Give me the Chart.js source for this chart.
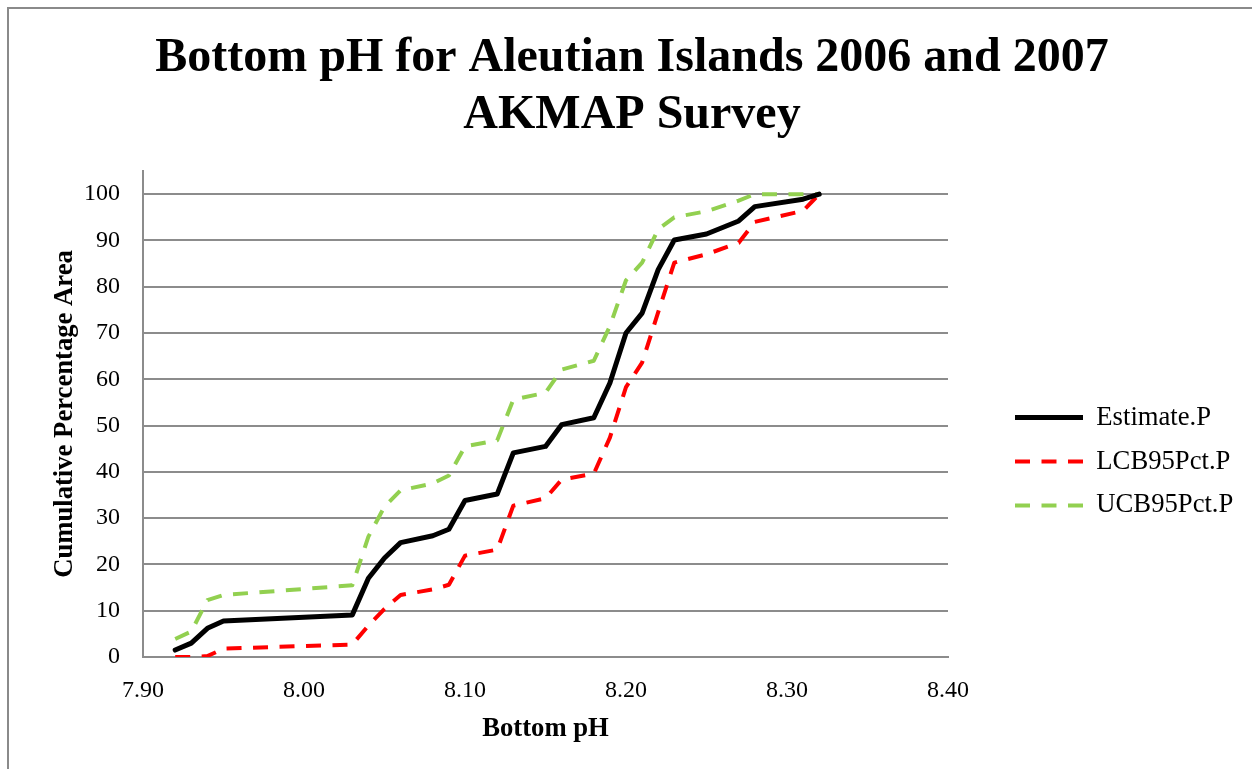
<!DOCTYPE html>
<html>
<head>
<meta charset="utf-8">
<script src="https://cdn.jsdelivr.net/npm/chart.js@4.4.0/dist/chart.umd.min.js"></script>
<style>
  html, body { margin: 0; padding: 0; background: #ffffff; }
  #wrap { position: relative; width: 1252px; height: 769px; overflow: hidden; }
  #frame { position: absolute; left: 7px; top: 7px; right: -10px; bottom: -10px;
           border-left: 2px solid #8a8a8a; border-top: 2px solid #8a8a8a; pointer-events: none; }
  canvas { position: absolute; left: 0; top: 0; }
</style>
</head>
<body>
<div id="wrap">
  <canvas id="chart" width="1252" height="769"></canvas>
  <div id="frame"></div>
</div>
<script>
// ---- data ----
const titleLines = ["Bottom pH for Aleutian Islands 2006 and 2007", "AKMAP Survey"];
const xAxisTitle = "Bottom pH";
const yAxisTitle = "Cumulative Percentage Area";
const seriesNames = ["Estimate.P", "LCB95Pct.P", "UCB95Pct.P"];

const bottomPH = [7.92, 7.93, 7.94, 7.95, 8.03, 8.04, 8.05, 8.06, 8.08, 8.09, 8.10, 8.12, 8.13,
                  8.15, 8.16, 8.18, 8.19, 8.20, 8.21, 8.22, 8.23, 8.25, 8.27, 8.28, 8.31, 8.32];
const estimateP = [1.5, 3.0, 6.2, 7.8, 9.1, 17.0, 21.4, 24.7, 26.2, 27.6, 33.8, 35.2, 44.1,
                   45.5, 50.2, 51.7, 59.2, 70.0, 74.3, 83.7, 90.1, 91.4, 94.2, 97.3, 98.9, 100];
const lcb95P = [0, 0, 0.2, 1.8, 2.7, 6.8, 10.4, 13.4, 14.6, 15.6, 21.9, 23.2, 32.7,
                34.3, 38.3, 39.6, 47.4, 58.3, 63.6, 74.5, 85.2, 87.0, 89.5, 94.0, 96.4, 100];
const ucb95P = [3.9, 5.5, 12.3, 13.4, 15.5, 26.0, 32.5, 36.0, 37.5, 39.2, 45.5, 46.8, 55.6,
                57.1, 62.1, 64.0, 71.5, 81.4, 85.2, 92.4, 95.0, 96.3, 98.6, 100, 100, 100];

const xTickValues = [7.90, 8.00, 8.10, 8.20, 8.30, 8.40];
const yTickValues = [0, 10, 20, 30, 40, 50, 60, 70, 80, 90, 100];
const xRange = [7.90, 8.40];
const yRange = [0, 105];

// ---- chart ----
const serif = "'Liberation Serif', 'Times New Roman', serif";
const gridGrey = '#8c8c8c';

function pts(ys) { return bottomPH.map((x, i) => ({ x: x, y: ys[i] })); }

const legendPlacement = {
  id: 'legendPlacement',
  beforeLayout(chart) {
    const lg = chart.legend;
    if (lg && !lg._fitPatched) {
      const orig = lg.fit.bind(lg);
      lg.fit = function () { orig(); this.width = 1252 - 948; };
      lg._fitPatched = true;
    }
  },
  afterLayout(chart) {
    const lg = chart.legend;
    if (!lg) return;
    const w = lg.right - lg.left, h = lg.bottom - lg.top;
    lg.left = 997.7; lg.right = lg.left + w;
    lg.top = 386.9; lg.bottom = lg.top + h;
  }
};

new Chart(document.getElementById('chart'), {
  type: 'scatter',
  data: {
    datasets: [
      { label: seriesNames[0], data: pts(estimateP), showLine: true,
        borderColor: '#000000', backgroundColor: '#000000', borderWidth: 5,
        borderCapStyle: 'round', borderJoinStyle: 'round', pointRadius: 0, tension: 0 },
      { label: seriesNames[1], data: pts(lcb95P), showLine: true,
        borderColor: '#ff0000', backgroundColor: '#ff0000', borderWidth: 4,
        borderDash: [15, 11.5], borderCapStyle: 'butt', borderJoinStyle: 'round', pointRadius: 0, tension: 0 },
      { label: seriesNames[2], data: pts(ucb95P), showLine: true,
        borderColor: '#92d050', backgroundColor: '#92d050', borderWidth: 4,
        borderDash: [15, 11.5], borderCapStyle: 'butt', borderJoinStyle: 'round', pointRadius: 0, tension: 0 }
    ]
  },
  options: {
    responsive: false,
    animation: false,
    devicePixelRatio: 1,
    layout: { padding: { left: 12, right: 0, top: 0, bottom: 0 } },
    scales: {
      x: {
        type: 'linear', min: xRange[0], max: xRange[1],
        afterBuildTicks: (axis) => { axis.ticks = xTickValues.map(v => ({ value: v })); },
        afterFit: (axis) => { axis.height = 769 - 657; },
        ticks: { callback: (v) => Number(v).toFixed(2), color: '#000', padding: 19,
                 font: { family: serif, size: 24 }, maxRotation: 0 },
        grid: { drawOnChartArea: false, drawTicks: false },
        border: { display: true, color: gridGrey, width: 2 },
        title: { display: true, text: xAxisTitle, color: '#000',
                 font: { family: serif, size: 26.67, weight: 'bold' }, padding: { top: 24, bottom: 24 } }
      },
      y: {
        type: 'linear', min: yRange[0], max: yRange[1],
        afterBuildTicks: (axis) => { axis.ticks = yTickValues.map(v => ({ value: v })); },
        afterFit: (axis) => { axis.width = 143 - 12; },
        ticks: { color: '#000', padding: 23, font: { family: serif, size: 24 } },
        grid: { color: gridGrey, lineWidth: 2, drawTicks: false },
        border: { display: true, color: gridGrey, width: 2 },
        title: { display: true, text: yAxisTitle, color: '#000',
                 font: { family: serif, size: 26.67, weight: 'bold' }, padding: { top: 37, bottom: 37 } }
      }
    },
    plugins: {
      title: { display: true, text: titleLines, color: '#000',
               font: { family: serif, size: 48, weight: 'bold', lineHeight: 1.2 },
               padding: { top: 29.6, bottom: 26.2 } },
      legend: {
        position: 'right', align: 'start',
        labels: {
          usePointStyle: true, pointStyle: 'line', pointStyleWidth: 68, boxWidth: 68,
          padding: 17.3, color: '#000', font: { family: serif, size: 26.67 },
          generateLabels: (chart) => {
            const items = Chart.defaults.plugins.legend.labels.generateLabels(chart);
            items.forEach(it => {
              const ds = chart.data.datasets[it.datasetIndex];
              it.lineDash = ds.borderDash || [];
              it.lineWidth = ds.borderWidth;
              it.lineCap = 'butt';
            });
            return items;
          }
        }
      },
      tooltip: { enabled: false }
    }
  },
  plugins: [legendPlacement]
});
</script>
</body>
</html>
